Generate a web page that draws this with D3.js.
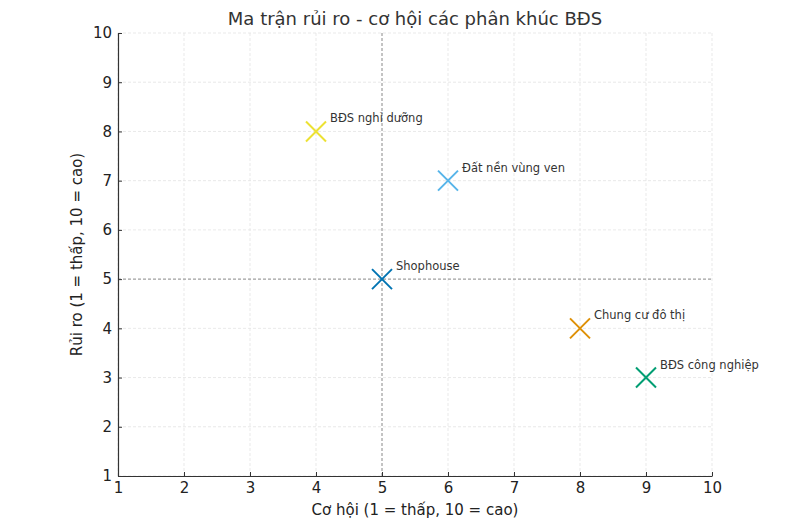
<!DOCTYPE html>
<html>
<head>
<meta charset="utf-8">
<script src="https://cdn.jsdelivr.net/npm/d3@7"></script>
<style>
  body { margin: 0; background: #fff; }
  text { font-family: "DejaVu Sans", sans-serif; }
</style>
</head>
<body>
<div id="chart"></div>
<script>
// phân khúc, cơ hội (x), rủi ro (y)
var segments = ["BĐS nghỉ dưỡng", "Đất nền vùng ven", "Shophouse", "Chung cư đô thị", "BĐS công nghiệp"];
var opportunity = [4, 6, 5, 8, 9];
var risk = [8, 7, 5, 4, 3];
var colors = ["#ece133", "#56b4e9", "#0173b2", "#de8f05", "#029e73"];
var ticks = [1, 2, 3, 4, 5, 6, 7, 8, 9, 10];
var midline = 5;

var width = 798, height = 531,
    margin = {top: 33, right: 86, bottom: 55, left: 118},
    w = width - margin.left - margin.right,
    h = height - margin.top - margin.bottom;

var svg = d3.select("#chart").append("svg").attr("width", width).attr("height", height);
var g = svg.append("g").attr("transform", "translate(" + margin.left + "," + margin.top + ")");

var x = d3.scaleLinear().domain([1, 10]).range([0, w]);
var y = d3.scaleLinear().domain([1, 10]).range([h, 0]);

// grid
g.append("g").selectAll("line").data(ticks).enter().append("line")
    .attr("x1", function(d) { return x(d); }).attr("x2", function(d) { return x(d); })
    .attr("y1", 0).attr("y2", h)
    .attr("stroke", "#e3e3e3").attr("stroke-dasharray", "3,2").attr("stroke-width", 0.8);
g.append("g").selectAll("line").data(ticks).enter().append("line")
    .attr("y1", function(d) { return y(d); }).attr("y2", function(d) { return y(d); })
    .attr("x1", 0).attr("x2", w)
    .attr("stroke", "#e3e3e3").attr("stroke-dasharray", "3,2").attr("stroke-width", 0.8);

// quadrant lines
g.append("line").attr("x1", x(midline)).attr("x2", x(midline)).attr("y1", 0).attr("y2", h)
    .attr("stroke", "#888").attr("stroke-dasharray", "3,2").attr("stroke-width", 0.9);
g.append("line").attr("y1", y(midline)).attr("y2", y(midline)).attr("x1", 0).attr("x2", w)
    .attr("stroke", "#888").attr("stroke-dasharray", "3,2").attr("stroke-width", 0.9);

// axes
var xAxis = g.append("g").attr("transform", "translate(0," + h + ")")
    .call(d3.axisBottom(x).tickValues(ticks).tickSizeInner(-4).tickSizeOuter(0).tickPadding(6));
var yAxis = g.append("g")
    .call(d3.axisLeft(y).tickValues(ticks).tickSizeInner(-4).tickSizeOuter(0).tickPadding(6));
[xAxis, yAxis].forEach(function(a) {
  a.select(".domain").attr("stroke", "#333").attr("stroke-width", 1.2);
  a.selectAll(".tick line").attr("stroke", "#333");
  a.selectAll(".tick text").attr("fill", "#222").style("font-size", "15px").style("font-family", "DejaVu Sans");
});

// points
var data = segments.map(function(s, i) {
  return {name: s, x: opportunity[i], y: risk[i], color: colors[i]};
});
var pts = g.selectAll(".pt").data(data).enter().append("g")
    .attr("transform", function(d) { return "translate(" + x(d.x) + "," + y(d.y) + ")"; });
pts.append("line").attr("x1", -10).attr("y1", -10).attr("x2", 10).attr("y2", 10)
    .attr("stroke", function(d) { return d.color; }).attr("stroke-width", 2);
pts.append("line").attr("x1", -10).attr("y1", 10).attr("x2", 10).attr("y2", -10)
    .attr("stroke", function(d) { return d.color; }).attr("stroke-width", 2);
pts.append("text").attr("x", 14).attr("y", -9)
    .attr("fill", "#333").style("font-size", "11.5px")
    .text(function(d) { return d.name; });

// labels
svg.append("text").attr("x", margin.left + w / 2).attr("y", 25)
    .attr("text-anchor", "middle").attr("fill", "#333").style("font-size", "18px")
    .text("Ma trận rủi ro - cơ hội các phân khúc BĐS");
svg.append("text").attr("x", margin.left + w / 2).attr("y", 515)
    .attr("text-anchor", "middle").attr("fill", "#222").style("font-size", "15px")
    .text("Cơ hội (1 = thấp, 10 = cao)");
svg.append("text").attr("transform", "translate(82," + (margin.top + h / 2) + ") rotate(-90)")
    .attr("text-anchor", "middle").attr("fill", "#222").style("font-size", "15px")
    .text("Rủi ro (1 = thấp, 10 = cao)");
</script>
</body>
</html>
